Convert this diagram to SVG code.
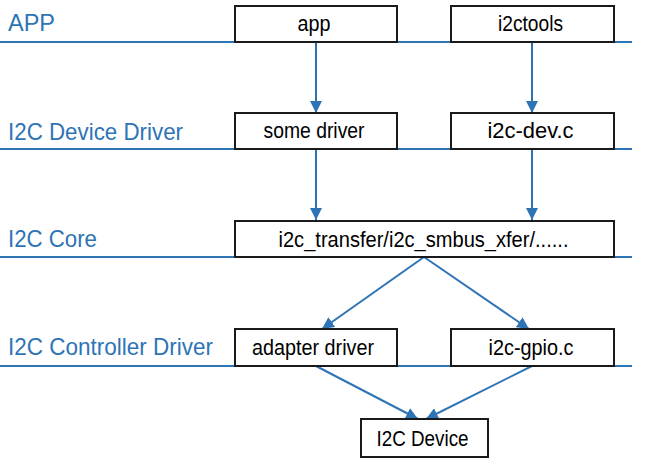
<svg xmlns="http://www.w3.org/2000/svg" width="659" height="475" viewBox="0 0 659 475">
<style>
.lane{stroke:#2E74B5;stroke-width:2;fill:none}
.lbl{font-family:"Liberation Sans",Arial,sans-serif;font-size:24.5px;fill:#2E74B5}
.box{fill:#fff;stroke:#1a1a1a;stroke-width:2}
.txt{font-family:"Liberation Sans",Arial,sans-serif;font-size:22px;fill:#000;text-anchor:middle}
.con{stroke:#2E74B5;stroke-width:2;fill:none;marker-end:url(#ah)}
</style>
<defs>
<marker id="ah" markerUnits="userSpaceOnUse" markerWidth="12" markerHeight="12" viewBox="0 0 12 12" refX="12" refY="6" orient="auto">
<path d="M0,0 L12,6 L0,12 Z" fill="#2E74B5"/>
</marker>
</defs>
<rect width="659" height="475" fill="#fff"/>
<g id="lanes">
<line class="lane" x1="0" y1="42" x2="632" y2="42"/>
<line class="lane" x1="0" y1="149" x2="632" y2="149"/>
<line class="lane" x1="0" y1="257" x2="632" y2="257"/>
<line class="lane" x1="0" y1="366" x2="632" y2="366"/>
<text class="lbl" x="8" y="31" textLength="47" lengthAdjust="spacingAndGlyphs">APP</text>
<text class="lbl" x="8" y="140" textLength="175" lengthAdjust="spacingAndGlyphs">I2C Device Driver</text>
<text class="lbl" x="8" y="247" textLength="89" lengthAdjust="spacingAndGlyphs">I2C Core</text>
<text class="lbl" x="8" y="355" textLength="205" lengthAdjust="spacingAndGlyphs">I2C Controller Driver</text>
</g>
<g id="connectors">
<line class="con" x1="316" y1="43" x2="316" y2="113"/>
<line class="con" x1="532" y1="43" x2="532" y2="113"/>
<line class="con" x1="316" y1="150" x2="316" y2="220"/>
<line class="con" x1="532" y1="150" x2="532" y2="220"/>
<line class="con" x1="424" y1="257" x2="322" y2="329"/>
<line class="con" x1="424" y1="257" x2="529" y2="329"/>
<line class="con" x1="316" y1="366" x2="418" y2="419"/>
<line class="con" x1="532" y1="366" x2="426" y2="419"/>
</g>
<g id="app"><rect class="box" x="235" y="6" width="162" height="36"/><text class="txt" x="314" y="31" textLength="33" lengthAdjust="spacingAndGlyphs">app</text></g>
<g id="i2ctools"><rect class="box" x="451" y="6" width="163" height="36"/><text class="txt" x="530.5" y="31" textLength="65" lengthAdjust="spacingAndGlyphs">i2ctools</text></g>
<g id="some-driver"><rect class="box" x="235" y="113" width="162" height="36"/><text class="txt" x="314" y="138" textLength="101" lengthAdjust="spacingAndGlyphs">some driver</text></g>
<g id="i2c-dev"><rect class="box" x="451" y="113" width="163" height="36"/><text class="txt" x="530.5" y="138" textLength="86" lengthAdjust="spacingAndGlyphs">i2c-dev.c</text></g>
<g id="core"><rect class="box" x="235" y="221" width="379" height="36"/><text class="txt" x="423.5" y="247" textLength="290" lengthAdjust="spacingAndGlyphs">i2c_transfer/i2c_smbus_xfer/......</text></g>
<g id="adapter-driver"><rect class="box" x="235" y="329" width="162" height="37"/><text class="txt" x="313" y="355" textLength="122" lengthAdjust="spacingAndGlyphs">adapter driver</text></g>
<g id="i2c-gpio"><rect class="box" x="451" y="329" width="163" height="37"/><text class="txt" x="531" y="355" textLength="85" lengthAdjust="spacingAndGlyphs">i2c-gpio.c</text></g>
<g id="i2c-device"><rect class="box" x="361" y="419" width="127" height="38"/><text class="txt" x="422.5" y="446" textLength="92" lengthAdjust="spacingAndGlyphs">I2C Device</text></g>
</svg>
